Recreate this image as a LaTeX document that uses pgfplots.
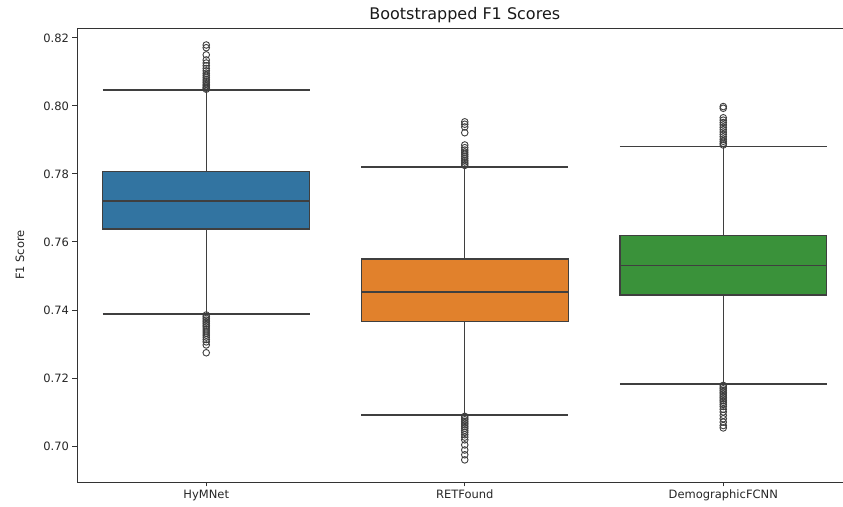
\documentclass[border=0pt]{standalone}
\usepackage{pgfplots}
\pgfplotsset{compat=1.18}
\usepgfplotslibrary{statistics}
\usetikzlibrary{calc}
\usepackage{fontspec}
\setmainfont{DejaVu Sans}
\definecolor{sbblue}{HTML}{3274A1}
\definecolor{sborange}{HTML}{E1812C}
\definecolor{sbgreen}{HTML}{3A923A}
\definecolor{edge}{HTML}{3F3F3F}
\begin{document}
\begin{tikzpicture}
\begin{axis}[
  scale only axis,
  width=775.5pt, height=454pt,
  xmin=-0.5, xmax=2.5,
  ymin=0.6894, ymax=0.8229,
  xtick={0,1,2},
  xticklabels={HyMNet,RETFound,DemographicFCNN},
  ytick={0.70,0.72,0.74,0.76,0.78,0.80,0.82},
  yticklabel style={/pgf/number format/.cd, fixed, fixed zerofill, precision=2, assume math mode=true},
  tick label style={font=\fontsize{11.5}{13}\selectfont, text=black!85},
  tick align=outside,
  xtick pos=left, ytick pos=left,
  major tick length=4.5pt,
  every tick/.style={black!80, line width=0.8pt},
  axis line style={black!80, line width=0.9pt},
  title={Bootstrapped F1 Scores},
  title style={font=\fontsize{16}{18}\selectfont, text=black!90, anchor=base, at={(axis description cs:0.5,1)}, yshift=2pt},
  ylabel={F1 Score},
  ylabel style={font=\fontsize{11.5}{13}\selectfont, text=black!85, at={(axis description cs:-0.0735,0.5)}, anchor=center, rotate=0},
  boxplot/draw direction=y,
  boxplot/box extend=0.8,
  boxplot/whisker extend=0.8,
  boxplot/every box/.style={draw=edge, line width=1.3pt},
  boxplot/every median/.style={draw=edge, line width=1.3pt},
  boxplot/every whisker/.style={draw=edge, line width=1.3pt},
  clip=false,
]
\addplot[fill=sbblue, draw=edge, line width=1.3pt,
  boxplot prepared={draw position=0, lower whisker=0.7388, lower quartile=0.7638, median=0.7720, upper quartile=0.7806, upper whisker=0.8047}]
  coordinates {};
\addplot[fill=sborange, draw=edge, line width=1.3pt,
  boxplot prepared={draw position=1, lower whisker=0.7091, lower quartile=0.7365, median=0.7453, upper quartile=0.7550, upper whisker=0.7820}]
  coordinates {};
\addplot[fill=sbgreen, draw=edge, line width=1.3pt,
  boxplot prepared={draw position=2, lower whisker=0.7182, lower quartile=0.7444, median=0.7530, upper quartile=0.7618, upper whisker=0.7880}]
  coordinates {};
% outliers
\addplot[only marks, mark=o, mark size=3.3pt, mark options={draw=edge, line width=0.9pt, fill=none}] coordinates {
(0,0.8179)(0,0.8171)(0,0.8150)(0,0.8135)(0,0.8126)(0,0.8118)(0,0.8110)(0,0.8103)(0,0.8096)(0,0.8090)
(0,0.8084)(0,0.8078)(0,0.8073)(0,0.8068)(0,0.8063)(0,0.8059)(0,0.8055)(0,0.8052)(0,0.8049)
(0,0.7385)(0,0.7380)(0,0.7375)(0,0.7370)(0,0.7365)(0,0.7360)(0,0.7355)(0,0.7350)(0,0.7344)(0,0.7338)
(0,0.7332)(0,0.7326)(0,0.7320)(0,0.7313)(0,0.7306)(0,0.7297)(0,0.7274)
(1,0.7953)(1,0.7946)(1,0.7938)(1,0.7921)(1,0.7885)(1,0.7877)(1,0.7870)(1,0.7864)(1,0.7858)(1,0.7852)
(1,0.7846)(1,0.7840)(1,0.7835)(1,0.7830)(1,0.7825)
(1,0.7087)(1,0.7082)(1,0.7077)(1,0.7072)(1,0.7067)(1,0.7062)(1,0.7057)(1,0.7052)(1,0.7046)(1,0.7040)
(1,0.7033)(1,0.7026)(1,0.7018)(1,0.7003)(1,0.6988)(1,0.6974)(1,0.6959)
(2,0.7998)(2,0.7993)(2,0.7965)(2,0.7958)(2,0.7951)(2,0.7944)(2,0.7937)(2,0.7930)(2,0.7923)(2,0.7916)
(2,0.7909)(2,0.7902)(2,0.7896)(2,0.7890)(2,0.7885)
(2,0.7178)(2,0.7173)(2,0.7168)(2,0.7163)(2,0.7158)(2,0.7153)(2,0.7148)(2,0.7143)(2,0.7138)(2,0.7133)
(2,0.7128)(2,0.7122)(2,0.7116)(2,0.7108)(2,0.7100)(2,0.7090)(2,0.7080)(2,0.7070)(2,0.7060)(2,0.7053)
};
\end{axis}
\pgfresetboundingbox
\path[use as bounding box] ($(current axis.south west)+(-77pt,-25pt)$) rectangle ($(current axis.north west)+(766pt,28pt)$);
\end{tikzpicture}
\end{document}
